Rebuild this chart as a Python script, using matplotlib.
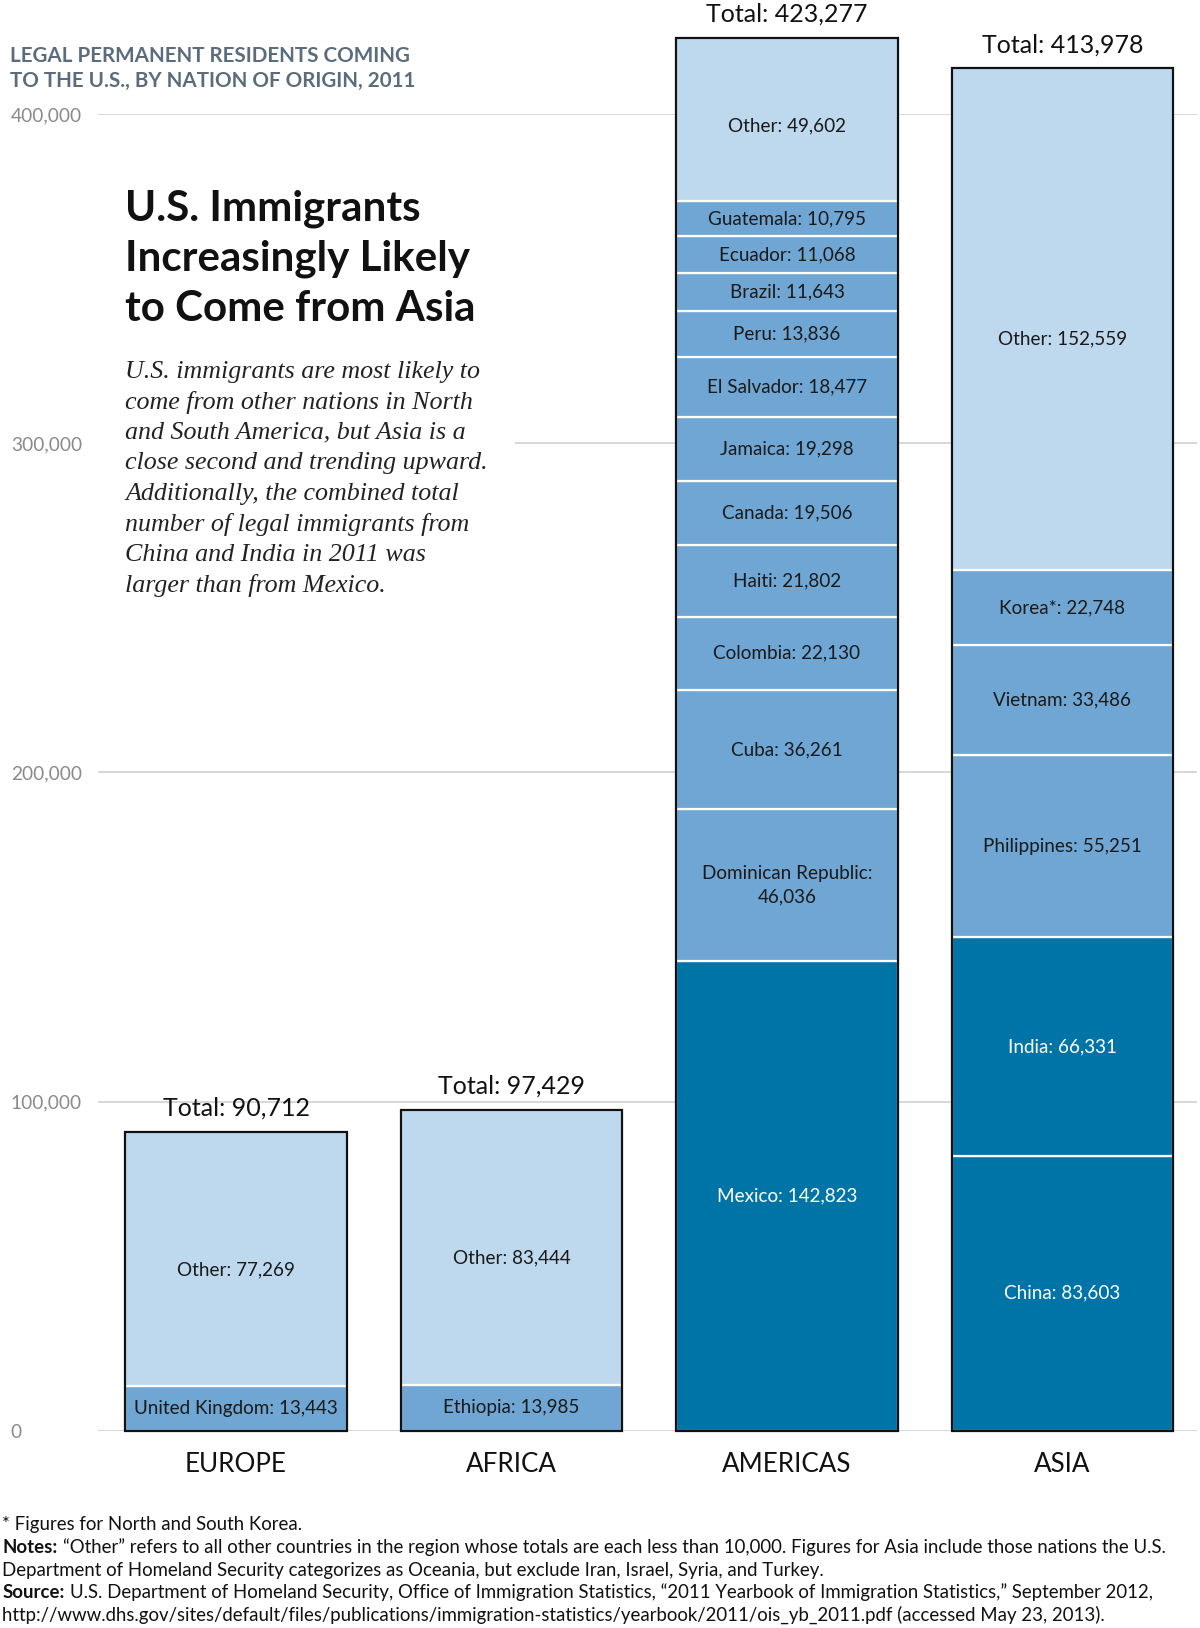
import matplotlib
matplotlib.use("Agg")
import matplotlib.pyplot as plt
from matplotlib.patches import Rectangle

# ---------------- data ----------------
regions = ["EUROPE", "AFRICA", "AMERICAS", "ASIA"]

europe_names = ["United Kingdom", "Other"]
europe_values = [13443, 77269]
europe_kind = ["country", "other"]

africa_names = ["Ethiopia", "Other"]
africa_values = [13985, 83444]
africa_kind = ["country", "other"]

americas_names = ["Mexico", "Dominican Republic", "Cuba", "Colombia", "Haiti",
                  "Canada", "Jamaica", "El Salvador", "Peru", "Brazil",
                  "Ecuador", "Guatemala", "Other"]
americas_values = [142823, 46036, 36261, 22130, 21802, 19506, 19298, 18477,
                   13836, 11643, 11068, 10795, 49602]
americas_kind = ["top", "country", "country", "country", "country", "country",
                 "country", "country", "country", "country", "country",
                 "country", "other"]

asia_names = ["China", "India", "Philippines", "Vietnam", "Korea*", "Other"]
asia_values = [83603, 66331, 55251, 33486, 22748, 152559]
asia_kind = ["top", "top", "country", "country", "country", "other"]

yticks = [0, 100000, 200000, 300000, 400000]
ytick_labels = ["0", "100,000", "200,000", "300,000", "400,000"]

# ---------------- style ----------------
W, H = 1160.0, 1568.0  # reference layout units
def fx(x): return x / W
def fy(y): return 1 - y / H

colors = {"other": "#BED9EE", "country": "#6FA6D3", "top": "#0074A7"}
txtcol = {"other": "#1a1a1a", "country": "#1a1a1a", "top": "white"}
label_pos = {"other": 0.46, "country": 0.5, "top": 0.5}
SANS = ["Lato", "DejaVu Sans"]
plt.rcParams["font.family"] = SANS

fig = plt.figure(figsize=(12, 16.28), dpi=100)
ax = fig.add_axes([fx(95), fy(1378), fx(1157) - fx(95), fy(110) - fy(1378)])
ax.set_xlim(-0.5, 3.488)
ax.set_ylim(0, 400000)
for s in ax.spines.values():
    s.set_visible(False)

ax.set_yticks(yticks)
ax.set_yticklabels(ytick_labels, fontsize=13.8, color="#8a8a8a", ha="left")
ax.tick_params(axis="y", length=0, pad=63)
ax.yaxis.grid(True, color="#d4d4d4", linewidth=1.3, zorder=0)
ax.set_axisbelow(True)

ax.set_xticks(range(len(regions)))
ax.set_xticklabels(regions, fontsize=18.7, color="#111111")
ax.tick_params(axis="x", length=0, pad=15.5)

bw = 0.804
data = [(europe_names, europe_values, europe_kind),
        (africa_names, africa_values, africa_kind),
        (americas_names, americas_values, americas_kind),
        (asia_names, asia_values, asia_kind)]

for i, (names, vals, kinds) in enumerate(data):
    bottom = 0
    for n, v, k in zip(names, vals, kinds):
        ax.bar(i, v, bottom=bottom, width=bw, color=colors[k],
               edgecolor="white", linewidth=1.6, zorder=2, clip_on=False)
        label = f"{n}: {v:,}"
        if n == "Dominican Republic":
            label = f"{n}:\n{v:,}"
        ax.text(i, bottom + v * label_pos[k], label, ha="center", va="center",
                fontsize=13.6, color=txtcol[k], zorder=4, linespacing=1.45)
        bottom += v
    total = sum(vals)
    ax.bar(i, total, width=bw, fill=False, edgecolor="#111111",
           linewidth=1.6, zorder=3, clip_on=False)
    ax.annotate(f"Total: {total:,}", (i, total), xytext=(0, 17),
                textcoords="offset points", ha="center", va="center",
                fontsize=18, color="#111111", annotation_clip=False)

# white box behind the intro text (hides part of the grid)
fig.patches.append(Rectangle((fx(95), fy(585)), fx(498) - fx(95), fy(335) - fy(585),
                             transform=fig.transFigure, facecolor="white",
                             edgecolor="none", zorder=1))

# header
fig.text(fx(10), fy(54), "LEGAL PERMANENT RESIDENTS COMING", fontsize=14.9,
         fontweight="bold", color="#5b6d7c", va="center", ha="left")
fig.text(fx(10), fy(78), "TO THE U.S., BY NATION OF ORIGIN, 2011", fontsize=14.9,
         fontweight="bold", color="#5b6d7c", va="center", ha="left")

# title
for j, line in enumerate(["U.S. Immigrants", "Increasingly Likely", "to Come from Asia"]):
    fig.text(fx(121), fy(201 + j * 48.5), line, fontsize=30.3, fontweight="bold",
             color="#111111", va="center", ha="left", zorder=5)

body = ["U.S. immigrants are most likely to",
        "come from other nations in North",
        "and South America, but Asia is a",
        "close second and trending upward.",
        "Additionally, the combined total",
        "number of legal immigrants from",
        "China and India in 2011 was",
        "larger than from Mexico."]
for j, line in enumerate(body):
    fig.text(fx(121), fy(358 + j * 29.4), line, fontsize=18.7, style="italic",
             family=["Liberation Serif", "DejaVu Serif"], color="#222222",
             va="center", ha="left", zorder=5)

# footnotes
fs = 13.4
def foot(y, bold, rest):
    if bold:
        t = fig.text(fx(2), fy(y), bold, fontsize=fs, fontweight="bold",
                     color="#111111", va="baseline")
        ax.annotate(rest, xy=(1, 0), xycoords=t, xytext=(4, 0),
                    textcoords="offset points", fontsize=fs, color="#111111",
                    va="bottom", ha="left", annotation_clip=False)
    else:
        fig.text(fx(2), fy(y), rest, fontsize=fs, color="#111111", va="baseline")

foot(1474, None, "* Figures for North and South Korea.")
foot(1496, "Notes:", "\u201cOther\u201d refers to all other countries in the region whose totals are each less than 10,000. Figures for Asia include those nations the U.S.")
foot(1518, None, "Department of Homeland Security categorizes as Oceania, but exclude Iran, Israel, Syria, and Turkey.")
foot(1539, "Source:", "U.S. Department of Homeland Security, Office of Immigration Statistics, \u201c2011 Yearbook of Immigration Statistics,\u201d September 2012,")
foot(1561, None, "http://www.dhs.gov/sites/default/files/publications/immigration-statistics/yearbook/2011/ois_yb_2011.pdf (accessed May 23, 2013).")

fig.savefig("out.png", dpi=100, facecolor="white")
